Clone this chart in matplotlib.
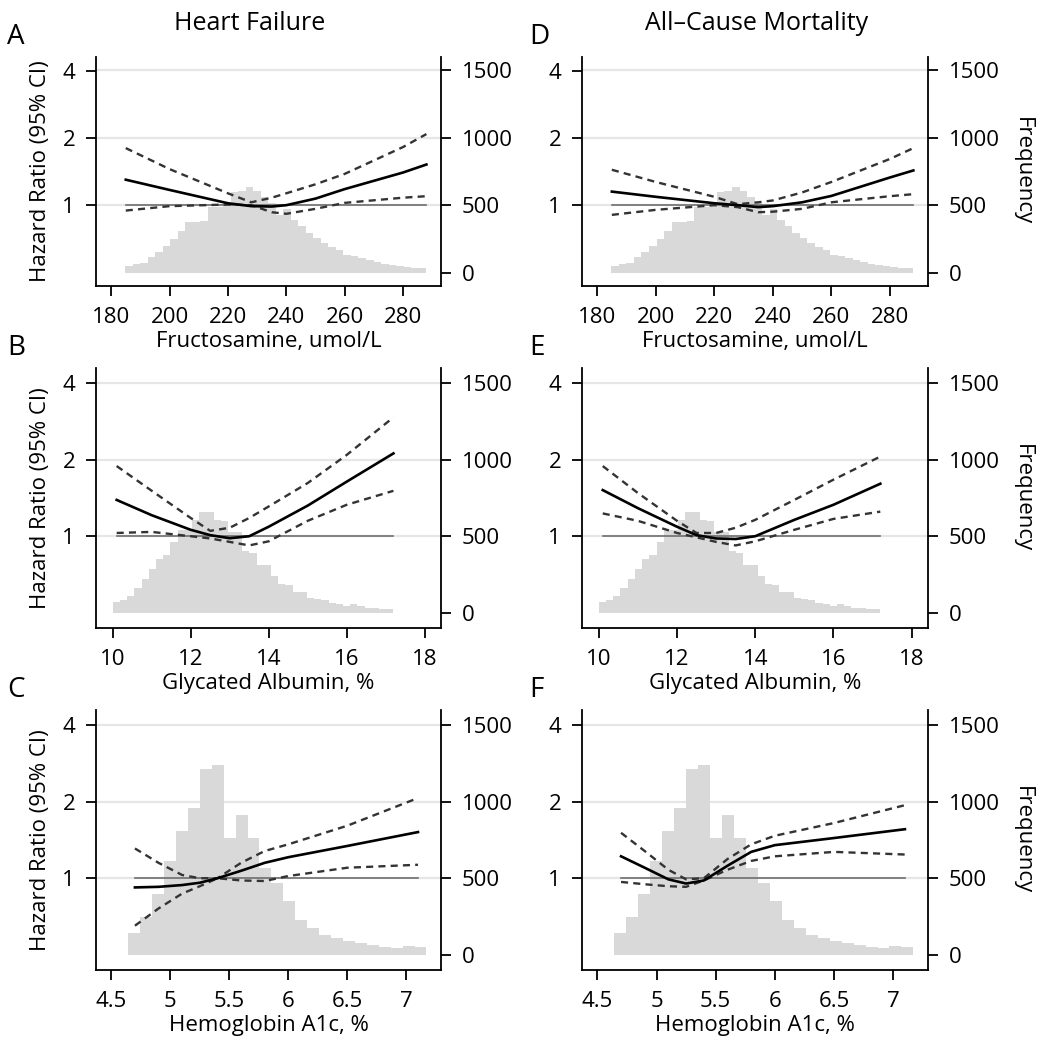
import matplotlib.pyplot as plt
import numpy as np
from matplotlib.ticker import FixedLocator, NullLocator

plt.rcParams['font.family'] = ['Open Sans', 'DejaVu Sans']
plt.rcParams['font.size'] = 16

# histogram counts (same distribution for both outcomes)
fruc_start, fruc_width = 184.8, 2.578
fruc_counts = [50, 60, 72, 112, 155, 197, 250, 305, 375, 375, 380, 485, 485, 517,
               597, 605, 637, 605, 562, 517, 430, 475, 392, 342, 292, 255, 217, 187,
               167, 130, 122, 105, 92, 80, 60, 55, 50, 42, 35, 30]
ga_start, ga_width = 10.0, 0.1846
ga_counts = [72, 80, 109, 163, 222, 287, 348, 380, 461, 543, 543, 609, 659, 659,
             609, 598, 526, 526, 402, 391, 315, 309, 239, 185, 178, 137, 135, 98,
             91, 83, 61, 54, 43, 54, 43, 33, 28, 22, 22]
a1c_start, a1c_width = 4.644, 0.1011
a1c_counts = [141, 245, 400, 613, 807, 959, 1212, 1241, 760, 911, 764, 565, 468,
              353, 229, 175, 126, 108, 87, 78, 61, 50, 43, 54, 50]

# hazard ratio curves
fruc_x = [185, 200, 220, 228, 235, 240, 250, 260, 280, 288]
hf_fruc = [1.30, 1.17, 1.02, 0.99, 0.986, 1.0, 1.07, 1.18, 1.40, 1.52]
hf_fruc_lo = [0.946, 0.99, 1.007, 1.0, 0.93, 0.915, 0.963, 1.024, 1.08, 1.097]
hf_fruc_hi = [1.80, 1.45, 1.13, 1.03, 1.08, 1.13, 1.24, 1.38, 1.82, 2.08]
acm_fruc = [1.15, 1.09, 1.02, 1.0, 0.98, 0.99, 1.03, 1.10, 1.33, 1.43]
acm_fruc_lo = [0.905, 0.953, 1.0, 0.98, 0.93, 0.935, 0.963, 1.03, 1.097, 1.12]
acm_fruc_hi = [1.44, 1.27, 1.09, 1.01, 1.03, 1.05, 1.14, 1.27, 1.61, 1.80]

ga_x = [10.1, 11, 12, 12.5, 13, 13.5, 14, 15, 16, 17.2]
hf_ga = [1.39, 1.21, 1.06, 1.01, 0.982, 1.0, 1.09, 1.32, 1.64, 2.12]
hf_ga_lo = [1.03, 1.04, 1.0, 0.98, 0.95, 0.92, 0.955, 1.15, 1.33, 1.51]
hf_ga_hi = [1.89, 1.51, 1.18, 1.05, 1.08, 1.18, 1.31, 1.62, 2.09, 2.94]
acm_ga = [1.52, 1.29, 1.09, 1.01, 0.98, 0.975, 1.0, 1.16, 1.33, 1.61]
acm_ga_lo = [1.23, 1.15, 1.03, 0.99, 0.95, 0.92, 0.955, 1.06, 1.17, 1.25]
acm_ga_hi = [1.89, 1.48, 1.15, 1.03, 1.03, 1.08, 1.16, 1.39, 1.67, 2.06]

a1c_x = [4.7, 4.9, 5.1, 5.25, 5.4, 5.6, 5.8, 6.0, 6.5, 7.1]
hf_a1c = [0.92, 0.925, 0.94, 0.96, 1.0, 1.07, 1.15, 1.21, 1.34, 1.52]
hf_a1c_lo = [0.65, 0.76, 0.87, 0.93, 1.0, 0.98, 0.975, 1.02, 1.10, 1.13]
hf_a1c_hi = [1.31, 1.15, 1.03, 1.0, 1.0, 1.15, 1.28, 1.36, 1.61, 2.07]
acm_a1c = [1.22, 1.10, 0.99, 0.953, 0.98, 1.12, 1.27, 1.35, 1.44, 1.56]
acm_a1c_lo = [0.967, 0.947, 0.93, 0.925, 0.98, 1.08, 1.17, 1.22, 1.27, 1.24]
acm_a1c_hi = [1.51, 1.28, 1.08, 0.99, 1.0, 1.19, 1.36, 1.47, 1.65, 1.94]

fig = plt.figure(figsize=(10.5, 10.47), dpi=100)

lefts = [96 / 1050, 582 / 1050]
widths = [345 / 1050, 346 / 1050]
bottoms = [1 - 286 / 1047, 1 - 628 / 1047, 1 - 970 / 1047]
heights = [229 / 1047, 260 / 1047, 260 / 1047]

rows = [
    (fruc_start, fruc_width, fruc_counts, fruc_x, (174.8, 293), [180, 200, 220, 240, 260, 280],
     'Fructosamine, umol/L'),
    (ga_start, ga_width, ga_counts, ga_x, (9.57, 18.42), [10, 12, 14, 16, 18],
     'Glycated Albumin, %'),
    (a1c_start, a1c_width, a1c_counts, a1c_x, (4.37, 7.295), [4.5, 5, 5.5, 6, 6.5, 7],
     'Hemoglobin A1c, %'),
]
curves = [
    [(hf_fruc, hf_fruc_lo, hf_fruc_hi), (acm_fruc, acm_fruc_lo, acm_fruc_hi)],
    [(hf_ga, hf_ga_lo, hf_ga_hi), (acm_ga, acm_ga_lo, acm_ga_hi)],
    [(hf_a1c, hf_a1c_lo, hf_a1c_hi), (acm_a1c, acm_a1c_lo, acm_a1c_hi)],
]
letters = [['A', 'D'], ['B', 'E'], ['C', 'F']]

for r, (hstart, hwidth, counts, cx, xlim, xticks, xlabel) in enumerate(rows):
    for c in range(2):
        rect = [lefts[c], bottoms[r], widths[c], heights[r]]
        axh = fig.add_axes(rect)
        ax = axh.twinx()

        # histogram on the frequency axis (right)
        edges = hstart + hwidth * np.arange(len(counts))
        for g in [500, 1000, 1500]:
            axh.axhline(g, color='#e6e6e6', lw=1.6, zorder=0)
        axh.bar(edges, counts, width=hwidth, align='edge', color='#d9d9d9',
                linewidth=0, zorder=1)
        axh.set_ylim(-100, 1600)
        axh.set_xlim(*xlim)
        axh.yaxis.tick_right()
        axh.yaxis.set_label_position('right')
        axh.set_yticks([0, 500, 1000, 1500])
        axh.set_xticks(xticks)
        axh.set_xticklabels([('%g' % t) for t in xticks])
        axh.spines['top'].set_visible(False)
        for s in ['left', 'right', 'bottom']:
            axh.spines[s].set_linewidth(1.3)
        axh.tick_params(direction='out', length=7, width=1.3, pad=8, labelsize=16)
        axh.set_xlabel(xlabel, fontsize=16, labelpad=2)
        if c == 1:
            axh.set_ylabel('Frequency', rotation=270, fontsize=16, labelpad=24)

        # hazard ratio curves on the log axis (left)
        ax.yaxis.tick_left()
        ax.yaxis.set_label_position('left')
        ax.set_yscale('log', base=2)
        ax.set_ylim(0.435, 4.6)
        ax.yaxis.set_major_locator(FixedLocator([1, 2, 4]))
        ax.yaxis.set_minor_locator(NullLocator())
        ax.set_yticklabels(['1', '2', '4'])
        ax.tick_params(direction='out', length=7, width=1.3, pad=8, labelsize=16)
        for s in ax.spines.values():
            s.set_visible(False)
        mid, lo, hi = curves[r][c]
        ax.plot([cx[0], cx[-1]], [1, 1], color='#6e6e6e', lw=1.2)
        ax.plot(cx, lo, color='#333333', lw=1.7, ls=(0, (3.0, 2.2)))
        ax.plot(cx, hi, color='#333333', lw=1.7, ls=(0, (3.0, 2.2)))
        ax.plot(cx, mid, color='black', lw=1.9)
        if c == 0:
            ax.set_ylabel('Hazard Ratio (95% CI)', fontsize=16, labelpad=8)

        top_px = [57, 368, 710][r]
        fig.text((7 if c == 0 else 529) / 1050, 1 - (top_px - 20) / 1047, letters[r][c],
                 fontsize=20, ha='left', va='center')

fig.text(250 / 1050, 1 - 23 / 1047, 'Heart Failure', fontsize=18, ha='center', va='center')
fig.text(757 / 1050, 1 - 23 / 1047, 'All\u2013Cause Mortality', fontsize=18,
         ha='center', va='center')

fig.savefig('out.png', dpi=100)
